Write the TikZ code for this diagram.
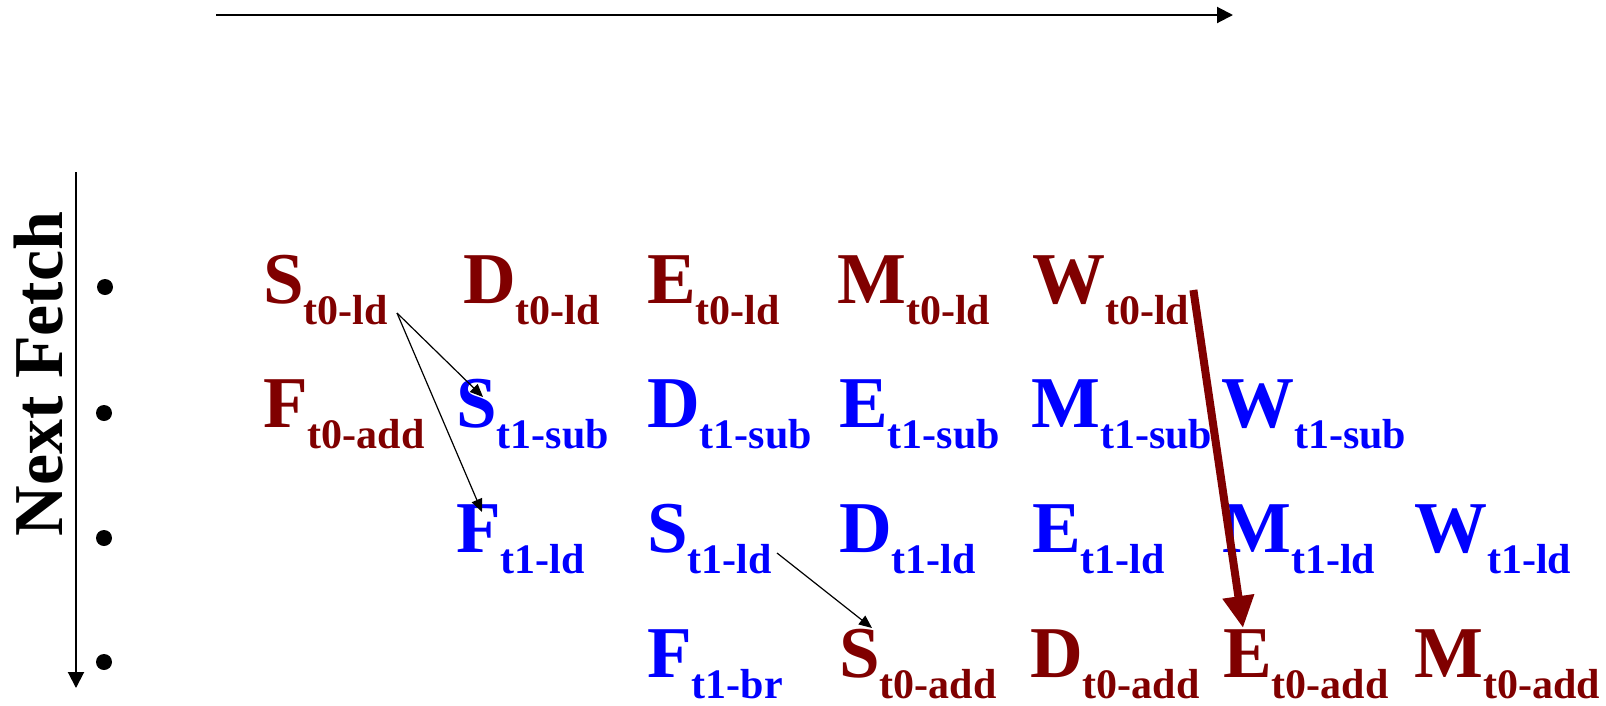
\documentclass[tikz,border=0pt]{standalone}
\usepackage{fontspec}
\setmainfont{Liberation Serif}
\usetikzlibrary{arrows.meta}
\definecolor{thrzero}{RGB}{128,0,0}
\definecolor{throne}{RGB}{0,0,255}
% stage letter with its thread/instruction subscript
\newcommand\stg[2]{#1\raisebox{-21pt}{\fontsize{42}{42}\selectfont #2}}
\tikzset{
  stage/.style={inner sep=0pt, anchor=base west, font=\fontsize{73}{73}\selectfont\bfseries},
  tz/.style={stage, text=thrzero},
  to/.style={stage, text=throne},
  dep/.style={draw=black, line width=1.2pt, -{Triangle[length=13pt,width=11pt]}},
  bigdep/.style={draw=thrzero, line width=8pt, -{Triangle[length=32pt,width=30pt]}},
  axis/.style={draw=black, line width=2pt, -{Triangle[length=16pt,width=16pt]}},
  bullet/.style={circle, fill=black, inner sep=0pt, minimum size=16pt}
}
\begin{document}
\begin{tikzpicture}[x=1pt,y=-1pt]
\useasboundingbox (0,0) rectangle (1606,705);

% time axis and fetch-order axis
\coordinate (tl) at (216,15);
\coordinate (tr) at (1233,15);
\draw[axis] (tl) -- (tr);
\coordinate (ft) at (76,172);
\coordinate (fb) at (76,688);
\draw[axis] (ft) -- (fb);
\node[rotate=90, inner sep=0pt, font=\fontsize{70}{70}\selectfont\bfseries] (lab) at (39,374) {Next Fetch};

% row bullets
\node[bullet] (b1) at (105,287) {};
\node[bullet] (b2) at (104,413) {};
\node[bullet] (b3) at (104,538) {};
\node[bullet] (b4) at (104,662) {};

% row 1
\node[tz] (s0ld) at (263,303) {\stg{S}{t0-ld}};
\node[tz] (d0ld) at (463,303) {\stg{D}{t0-ld}};
\node[tz] (e0ld) at (647,303) {\stg{E}{t0-ld}};
\node[tz] (m0ld) at (837,303) {\stg{M}{t0-ld}};
\node[tz] (w0ld) at (1032,303) {\stg{W}{t0-ld}};

% row 2
\node[tz] (f0add) at (263,427) {\stg{F}{t0-add}};
\node[to] (s1sub) at (456,427) {\stg{S}{t1-sub}};
\node[to] (d1sub) at (647,427) {\stg{D}{t1-sub}};
\node[to] (e1sub) at (839,427) {\stg{E}{t1-sub}};
\node[to] (m1sub) at (1031,427) {\stg{M}{t1-sub}};
\node[to] (w1sub) at (1221,427) {\stg{W}{t1-sub}};

% row 3
\node[to] (f1ld) at (456,552) {\stg{F}{t1-ld}};
\node[to] (s1ld) at (647,552) {\stg{S}{t1-ld}};
\node[to] (d1ld) at (839,552) {\stg{D}{t1-ld}};
\node[to] (e1ld) at (1032,552) {\stg{E}{t1-ld}};
\node[to] (m1ld) at (1222,552) {\stg{M}{t1-ld}};
\node[to] (w1ld) at (1414,552) {\stg{W}{t1-ld}};

% row 4
\node[to] (f1br) at (647,677) {\stg{F}{t1-br}};
\node[tz] (s0add) at (839,677) {\stg{S}{t0-add}};
\node[tz] (d0add) at (1030,677) {\stg{D}{t0-add}};
\node[tz] (e0add) at (1223,677) {\stg{E}{t0-add}};
\node[tz] (m0add) at (1414,677) {\stg{M}{t0-add}};

% switch and dependency arrows
\draw[dep] ([xshift=9pt,yshift=-10pt]s0ld.base east) -- ([xshift=27pt,yshift=30pt]s1sub.base west);
\draw[dep] ([xshift=9pt,yshift=-10pt]s0ld.base east) -- ([xshift=26pt,yshift=40pt]f1ld.base west);
\draw[dep] ([xshift=5pt,yshift=-1pt]s1ld.base east) -- ([xshift=33pt,yshift=49pt]s0add.base west);
\draw[bigdep] ([xshift=4pt,yshift=13pt]w0ld.base east) -- ([xshift=20pt,yshift=49pt]e0add.base west);
\end{tikzpicture}
\end{document}
